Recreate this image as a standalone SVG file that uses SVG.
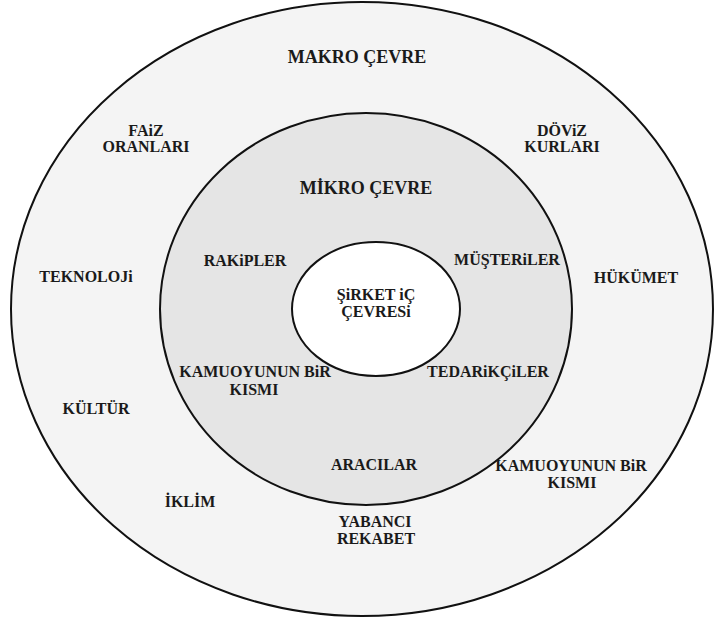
<svg xmlns="http://www.w3.org/2000/svg" width="714" height="623" viewBox="0 0 714 623">
<style>
.ring{stroke:#111;stroke-width:2}
text{font-family:'Liberation Serif','Times New Roman','DejaVu Serif',serif;font-weight:bold;font-size:16px;fill:#1a1a1a;text-anchor:middle}
.big{font-size:18px}
</style>
<rect width="714" height="623" fill="#ffffff"/>
<g id="makro">
<ellipse class="ring" cx="362" cy="309" rx="351" ry="307" fill="#f4f4f4"/>
</g>
<g id="mikro">
<ellipse class="ring" cx="366" cy="309" rx="206" ry="196" fill="#e5e5e5"/>
</g>
<g id="sirket">
<ellipse class="ring" cx="376" cy="309" rx="84" ry="67" fill="#ffffff"/>
</g>
<g id="labels">
<text class="big" x="357" y="63">MAKRO ÇEVRE</text>
<text x="146" y="136">FAiZ</text>
<text x="146" y="152">ORANLARI</text>
<text x="562" y="136">DÖViZ</text>
<text x="562" y="152">KURLARI</text>
<text class="big" x="366" y="194">MİKRO ÇEVRE</text>
<text x="245" y="266">RAKiPLER</text>
<text x="507" y="265">MÜŞTERiLER</text>
<text x="86" y="282">TEKNOLOJi</text>
<text x="636" y="283">HÜKÜMET</text>
<text x="376" y="300">ŞiRKET iÇ</text>
<text x="376" y="317">ÇEVRESi</text>
<text x="255" y="377">KAMUOYUNUN BiR</text>
<text x="254" y="395">KISMI</text>
<text x="488" y="377">TEDARiKÇiLER</text>
<text x="96" y="414">KÜLTÜR</text>
<text x="374" y="470">ARACILAR</text>
<text x="571" y="471">KAMUOYUNUN BiR</text>
<text x="572" y="488">KISMI</text>
<text x="190" y="507">İKLİM</text>
<text x="375" y="527">YABANCI</text>
<text x="376" y="544">REKABET</text>
</g>
</svg>
